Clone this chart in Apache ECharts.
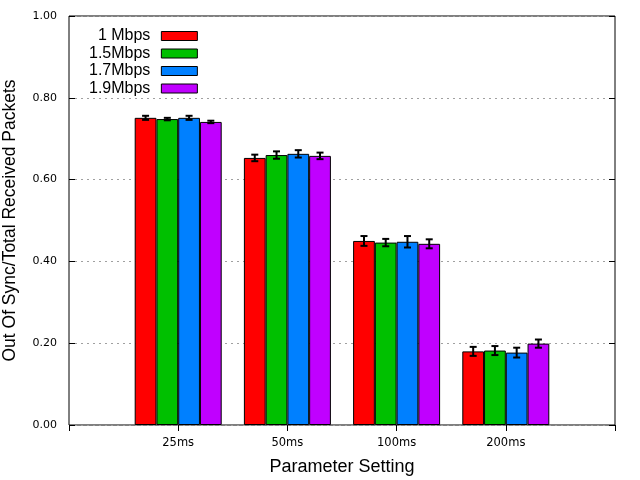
<!DOCTYPE html>
<html>
<head>
<meta charset="utf-8">
<script src="https://cdn.jsdelivr.net/npm/echarts@6/dist/echarts.min.js"></script>
<style>
  html, body { margin: 0; padding: 0; background: #fff; }
  #chart { width: 640px; height: 480px; }
</style>
</head>
<body>
<div id="chart"></div>
<script>
// categories, padded with empty slots at both ends (axis runs 0..5)
var categories = ['', '25ms', '50ms', '100ms', '200ms', ''];
var seriesNames = ['1 Mbps', '1.5Mbps', '1.7Mbps', '1.9Mbps'];
var colors = ['#ff0000', '#00c000', '#0080ff', '#c000ff'];

// mean values per setting (25, 50, 100, 200 ms)
var rate10 = [0.751, 0.653, 0.450, 0.180];
var rate15 = [0.748, 0.660, 0.446, 0.182];
var rate17 = [0.751, 0.663, 0.448, 0.177];
var rate19 = [0.741, 0.658, 0.443, 0.199];

// half-width of the error bars
var err10 = [0.005, 0.008, 0.012, 0.011];
var err15 = [0.003, 0.009, 0.009, 0.011];
var err17 = [0.005, 0.009, 0.014, 0.012];
var err19 = [0.003, 0.008, 0.011, 0.010];

var means = [rate10, rate15, rate17, rate19];
var errs = [err10, err15, err17, err19];

var barW = 21.75;
var myChart = echarts.init(document.getElementById('chart'));

var series = [];
means.forEach(function (vals, i) {
    series.push({
        name: seriesNames[i],
        type: 'bar',
        barWidth: barW,
        barGap: 0,
        data: ['-'].concat(vals).concat(['-']),
        itemStyle: { color: colors[i], borderColor: '#000', borderWidth: 1 },
        emphasis: { disabled: true },
        animation: false
    });
});
means.forEach(function (vals, i) {
    series.push({
        type: 'custom',
        animation: false,
        silent: true,
        z: 5,
        data: vals.map(function (v, k) {
            return [k + 1, v - errs[i][k], v + errs[i][k]];
        }),
        renderItem: function (params, api) {
            var lo = api.coord([api.value(0), api.value(1)]);
            var hi = api.coord([api.value(0), api.value(2)]);
            var x = lo[0] + (i - 1.5) * barW;
            var cap = 3.5;
            var st = { stroke: '#000', lineWidth: 2 };
            return {
                type: 'group',
                children: [
                    { type: 'line', shape: { x1: x, y1: lo[1], x2: x, y2: hi[1] }, style: st },
                    { type: 'line', shape: { x1: x - cap, y1: lo[1], x2: x + cap, y2: lo[1] }, style: st },
                    { type: 'line', shape: { x1: x - cap, y1: hi[1], x2: x + cap, y2: hi[1] }, style: st }
                ]
            };
        }
    });
});

var option = {
    backgroundColor: '#fff',
    animation: false,
    textStyle: { fontFamily: 'DejaVu Sans' },
    legend: {
        data: seriesNames,
        orient: 'vertical',
        align: 'right',
        left: 84,
        top: 23,
        itemWidth: 36,
        itemHeight: 9,
        itemGap: 1.5,
        selectedMode: false,
        icon: 'rect',
        textStyle: { fontFamily: 'Liberation Sans', fontSize: 16, lineHeight: 16, color: '#000', padding: [0, 6, 0, 0] },
        itemStyle: { borderColor: '#000', borderWidth: 1 }
    },
    grid: {
        left: 69, right: 25, top: 16, bottom: 55,
        outerBoundsMode: 'none',
        containLabel: false,
        show: true, borderColor: '#000', borderWidth: 1, backgroundColor: 'transparent'
    },
    xAxis: [{
        type: 'category',
        data: categories,
        boundaryGap: false,
        name: 'Parameter Setting',
        nameLocation: 'middle',
        nameGap: 33,
        nameTextStyle: { fontFamily: 'Liberation Sans', fontSize: 18, color: '#000' },
        axisLine: { show: false },
        axisTick: { show: false },
        axisLabel: { fontSize: 11.5, color: '#000', margin: 12 },
        splitLine: { show: false }
    }, {
        type: 'category',
        data: categories,
        boundaryGap: false,
        position: 'top',
        axisLine: { show: false },
        axisTick: { show: true, inside: true, length: 6, lineStyle: { color: '#000' } },
        axisLabel: { show: false },
        splitLine: { show: false }
    }],
    yAxis: [{
        type: 'value',
        min: 0,
        max: 1,
        interval: 0.2,
        name: 'Out Of Sync/Total Received Packets',
        nameLocation: 'middle',
        nameGap: 50,
        nameTextStyle: { fontFamily: 'Liberation Sans', fontSize: 17.5, color: '#000' },
        axisLine: { show: false },
        axisTick: { show: true, inside: true, length: 6, lineStyle: { color: '#000' } },
        axisLabel: {
            fontSize: 11, color: '#000', margin: 12,
            formatter: function (v) { return v.toFixed(2); }
        },
        splitLine: { show: true, lineStyle: { color: '#a0a0a0', type: [2, 4], width: 1 } }
    }, {
        type: 'value',
        min: 0,
        max: 1,
        interval: 0.2,
        position: 'right',
        axisLine: { show: false },
        axisTick: { show: true, inside: true, length: 6, lineStyle: { color: '#000' } },
        axisLabel: { show: false },
        splitLine: { show: false }
    }],
    series: series
};

myChart.setOption(option);
</script>
</body>
</html>
